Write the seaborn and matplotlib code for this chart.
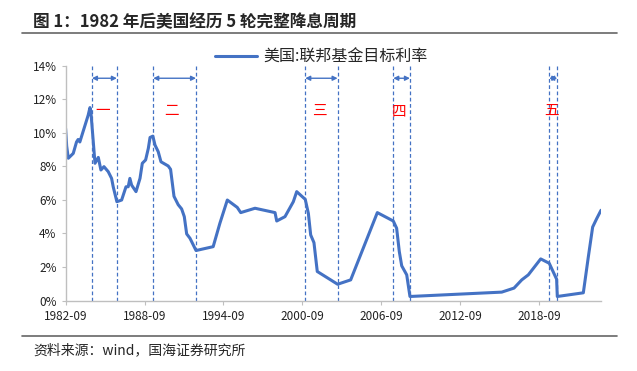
import pandas as pd
import numpy as np
import matplotlib
matplotlib.use("Agg")
import matplotlib.pyplot as plt
import matplotlib.dates as mdates
import seaborn as sns

sns.set_style("ticks")
plt.rcParams['font.family'] = ['Noto Sans CJK SC', 'DejaVu Sans']
plt.rcParams['axes.unicode_minus'] = False

# 联邦基金目标利率 (%)
dates = [
    '1982-09-01', '1982-10-01', '1982-11-15', '1983-04-01', '1983-07-01', '1983-08-15',
    '1983-10-01', '1984-05-20', '1984-07-08', '1984-08-01', '1984-11-25', '1985-02-25',
    '1985-05-08', '1985-08-01', '1985-11-28', '1986-03-01', '1986-04-15', '1986-07-26',
    '1986-12-05', '1987-04-05', '1987-06-05', '1987-07-22', '1987-09-08', '1988-01-08',
    '1988-04-28', '1988-07-01', '1988-10-01', '1988-12-15', '1989-02-01', '1989-04-20',
    '1989-06-18', '1989-09-16', '1989-12-01', '1990-06-20', '1990-08-25', '1990-11-28',
    '1991-03-25', '1991-06-28', '1991-09-10', '1991-11-15', '1992-02-15', '1992-08-01',
    '1993-11-20', '1994-05-25', '1994-12-18', '1995-09-20', '1995-12-25', '1997-01-25',
    '1998-08-04', '1998-09-20', '1999-05-08', '1999-12-25', '2000-03-28', '2000-11-20',
    '2001-02-15', '2001-04-20', '2001-07-20', '2001-10-20', '2003-05-08', '2004-05-05',
    '2006-05-15', '2007-08-01', '2007-11-02', '2008-01-15', '2008-03-22', '2008-08-08',
    '2008-11-06', '2015-10-30', '2016-10-05', '2017-05-08', '2017-11-06', '2018-10-16',
    '2019-06-10', '2020-01-01', '2020-01-20', '2022-01-12', '2022-05-30', '2022-09-28',
    '2023-01-18', '2023-05-18',
]
rates = [
    10.25, 9.2, 8.48, 8.77, 9.45, 9.6,
    9.45, 11.05, 11.5, 11.3, 8.18, 8.53,
    7.78, 7.98, 7.68, 7.28, 6.78, 5.89,
    5.99, 6.78, 6.78, 7.28, 6.88, 6.49,
    7.28, 8.18, 8.38, 9.07, 9.72, 9.80,
    9.27, 8.87, 8.27, 8.02, 7.82, 6.21,
    5.71, 5.46, 5.0, 3.97, 3.71, 2.98,
    3.21, 4.6, 5.99, 5.55, 5.24, 5.5,
    5.24, 4.74, 5.0, 5.89, 6.49, 6.03,
    5.19, 3.91, 3.45, 1.73, 0.97, 1.23,
    5.24, 4.74, 4.31, 2.92, 2.07, 1.53,
    0.24, 0.5, 0.74, 1.23, 1.53, 2.48,
    2.22, 1.27, 0.24, 0.46, 2.59, 4.38,
    4.88, 5.38,
]

# 五轮降息周期的起止
cycle_start = ['1984-09-01', '1989-05-01', '2000-11-20', '2007-08-01', '2019-06-10']
cycle_end = ['1986-07-26', '1992-08-01', '2003-05-08', '2008-11-06', '2020-01-20']
cycle_names = ['一', '二', '三', '四', '五']
label_dates = ['1985-07-01', '1990-10-01', '2001-12-10', '2008-01-01', '2019-08-15']

df = pd.DataFrame({'date': pd.to_datetime(dates), 'rate': rates})
blue = '#4472C4'

fig = plt.figure(figsize=(6.37, 3.71), dpi=100)
ax = fig.add_axes([0.103, 0.19, 0.8405, 0.633])

sns.lineplot(data=df, x='date', y='rate', ax=ax, color=blue, linewidth=2.2,
             label='美国:联邦基金目标利率')

for s, e, name, ld in zip(cycle_start, cycle_end, cycle_names, label_dates):
    s, e = pd.Timestamp(s), pd.Timestamp(e)
    for d in (s, e):
        ax.axvline(d, color=blue, linestyle=(0, (3, 2)), linewidth=0.9)
    ax.annotate('', xy=(e, 13.25), xytext=(s, 13.25),
                arrowprops=dict(arrowstyle='<|-|>', color=blue, lw=1.0,
                                mutation_scale=7, shrinkA=0, shrinkB=0))
    ax.text(pd.Timestamp(ld), 11.3, name, color='red', fontsize=10.5,
            ha='center', va='center')

ax.set_ylim(0, 14)
ax.set_yticks(np.arange(0, 15, 2))
ax.yaxis.set_major_formatter(plt.FuncFormatter(lambda v, p: f'{v:.0f}%'))
ax.set_xlim(pd.Timestamp('1982-09-01'), pd.Timestamp('2023-05-18'))
ax.set_xticks(pd.to_datetime([f'{y}-09-01' for y in range(1982, 2024, 6)]))
ax.xaxis.set_major_formatter(mdates.DateFormatter('%Y-%m'))
ax.set_xlabel('')
ax.set_ylabel('')
ax.tick_params(axis='both', labelsize=8.5, length=3, width=0.8, color='#BFBFBF',
               labelcolor='#222222')
for side in ['top', 'right']:
    ax.spines[side].set_visible(False)
for side in ['left', 'bottom']:
    ax.spines[side].set_color('#BFBFBF')
    ax.spines[side].set_linewidth(1.0)

ax.legend(loc='lower center', bbox_to_anchor=(0.478, 0.985), frameon=False,
          fontsize=11.5, handlelength=2.6, handletextpad=0.4, borderaxespad=0,
          borderpad=0.2)

fig.text(0.052, 0.941, '图 1：1982 年后美国经历 5 轮完整降息周期', fontsize=12,
         fontweight='bold', va='center', ha='left')
fig.add_artist(plt.Line2D([0.035, 0.969], [0.912, 0.912], color='#666666', lw=1.2,
                          transform=fig.transFigure))
fig.add_artist(plt.Line2D([0.035, 0.969], [0.095, 0.095], color='#666666', lw=1.2,
                          transform=fig.transFigure))
fig.text(0.052, 0.057, '资料来源：wind，国海证券研究所', fontsize=10, va='center', ha='left')

fig.savefig('out.png', dpi=100)
